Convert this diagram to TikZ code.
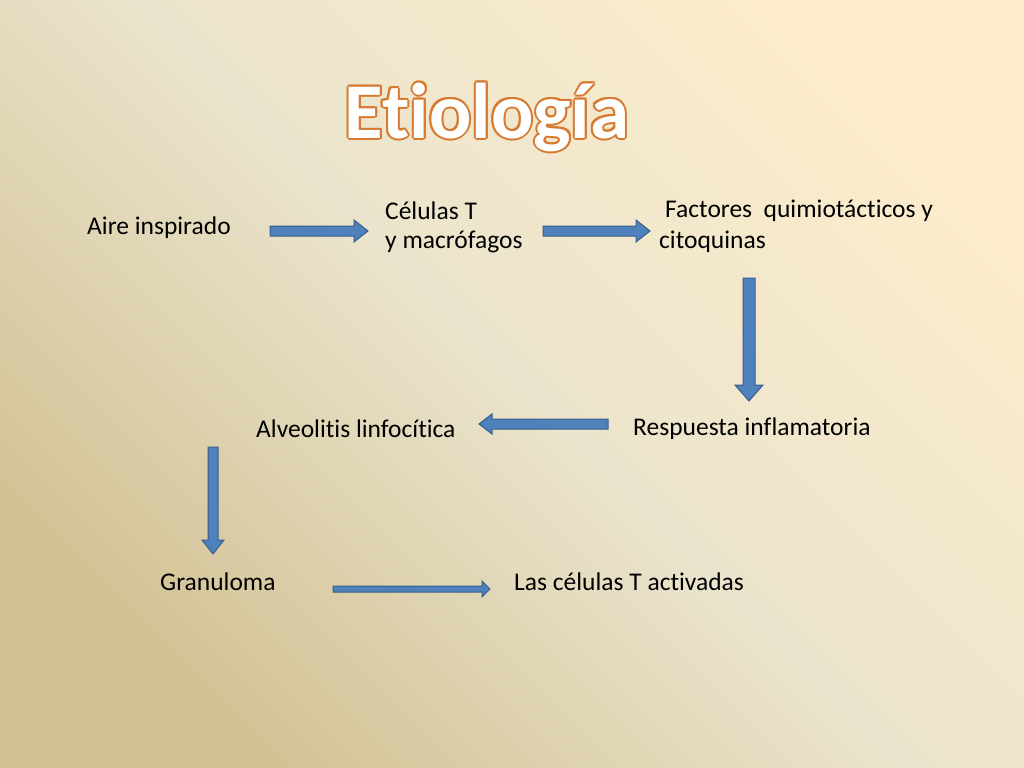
\documentclass[tikz,border=0pt]{standalone}
\usepackage{fontspec}
\setmainfont{Carlito}[Ligatures=NoCommon]
\usetikzlibrary{calc}
\definecolor{bgdark}{RGB}{210,193,148}
\definecolor{bgmid}{RGB}{234,228,204}
\definecolor{bglight}{RGB}{252,236,204}
\definecolor{arrfill}{RGB}{79,129,189}
\definecolor{arrline}{RGB}{56,93,138}
\definecolor{titleline}{RGB}{214,122,50}

% block arrow from (#1) to (#2): half shaft, half head, head length
\newcommand{\blockarrow}[5]{%
  \filldraw[barrow]
    ($(#1)!#3!90:(#2)$) -- ($($(#2)!#5!(#1)$)!#3!90:(#2)$)
    -- ($($(#2)!#5!(#1)$)!#4!90:(#2)$) -- (#2)
    -- ($($(#2)!#5!(#1)$)!#4!-90:(#2)$) -- ($($(#2)!#5!(#1)$)!#3!-90:(#2)$)
    -- ($(#1)!#3!-90:(#2)$) -- cycle;}

\begin{document}
\begin{tikzpicture}[x=1bp,y=-1bp,
  barrow/.style={fill=arrfill,draw=arrline,line width=1bp,line join=miter},
  lbl/.style={anchor=west,inner sep=0pt,font=\fontsize{25.5bp}{30bp}\selectfont},
  ttl/.style={font=\fontsize{79bp}{90bp}\selectfont\bfseries}]
  \useasboundingbox (0,0) rectangle (1024,768);
  \clip (0,0) rectangle (1024,768);
  \shade[top color=bgdark,bottom color=bglight,middle color=bgmid,shading angle=135]
    (0,0) rectangle (1024,768);

  % title
  \foreach \dx/\dy in {-2/0,2/0,0/-2,0/2,-1.5/-1.5,1.5/1.5,-1.5/1.5,1.5/-1.5}
    \node[ttl,text=titleline] at (487+\dx,117+\dy) {Etiología};
  \node (title) [ttl,text=white] at (487,117) {Etiología};

  % labels
  \node[lbl] (aire) at (87,228) {Aire inspirado};
  \node[lbl] (cel1) at (385,211) {Células T};
  \node[lbl] (cel2) at (385,242) {y macrófagos};
  \node[lbl] (fac1) at (665,211) {Factores\ \ quimiotácticos y};
  \node[lbl] (fac2) at (659,242) {citoquinas};
  \node[lbl] (resp) at (633,429) {Respuesta inflamatoria};
  \node[lbl] (alve) at (256,429) {Alveolitis linfocítica};
  \node[lbl] (gran) at (160,582) {Granuloma};
  \node[lbl] (acti) at (514,582) {Las células T activadas};

  % arrows
  \coordinate (a1s) at (270,231); \coordinate (a1e) at (368,231);
  \coordinate (a2s) at (543,231); \coordinate (a2e) at (650,231);
  \coordinate (a3s) at (749,278); \coordinate (a3e) at (749,401);
  \coordinate (a4s) at (608,424); \coordinate (a4e) at (479,424);
  \coordinate (a5s) at (213,447); \coordinate (a5e) at (213,554);
  \coordinate (a6s) at (333,589); \coordinate (a6e) at (490,589);
  \blockarrow{a1s}{a1e}{5bp}{11bp}{14bp}
  \blockarrow{a2s}{a2e}{5bp}{11bp}{14bp}
  \blockarrow{a3s}{a3e}{6bp}{14bp}{16bp}
  \blockarrow{a4s}{a4e}{5bp}{10bp}{13bp}
  \blockarrow{a5s}{a5e}{5bp}{11bp}{14bp}
  \blockarrow{a6s}{a6e}{3bp}{8bp}{8bp}
\end{tikzpicture}
\end{document}
